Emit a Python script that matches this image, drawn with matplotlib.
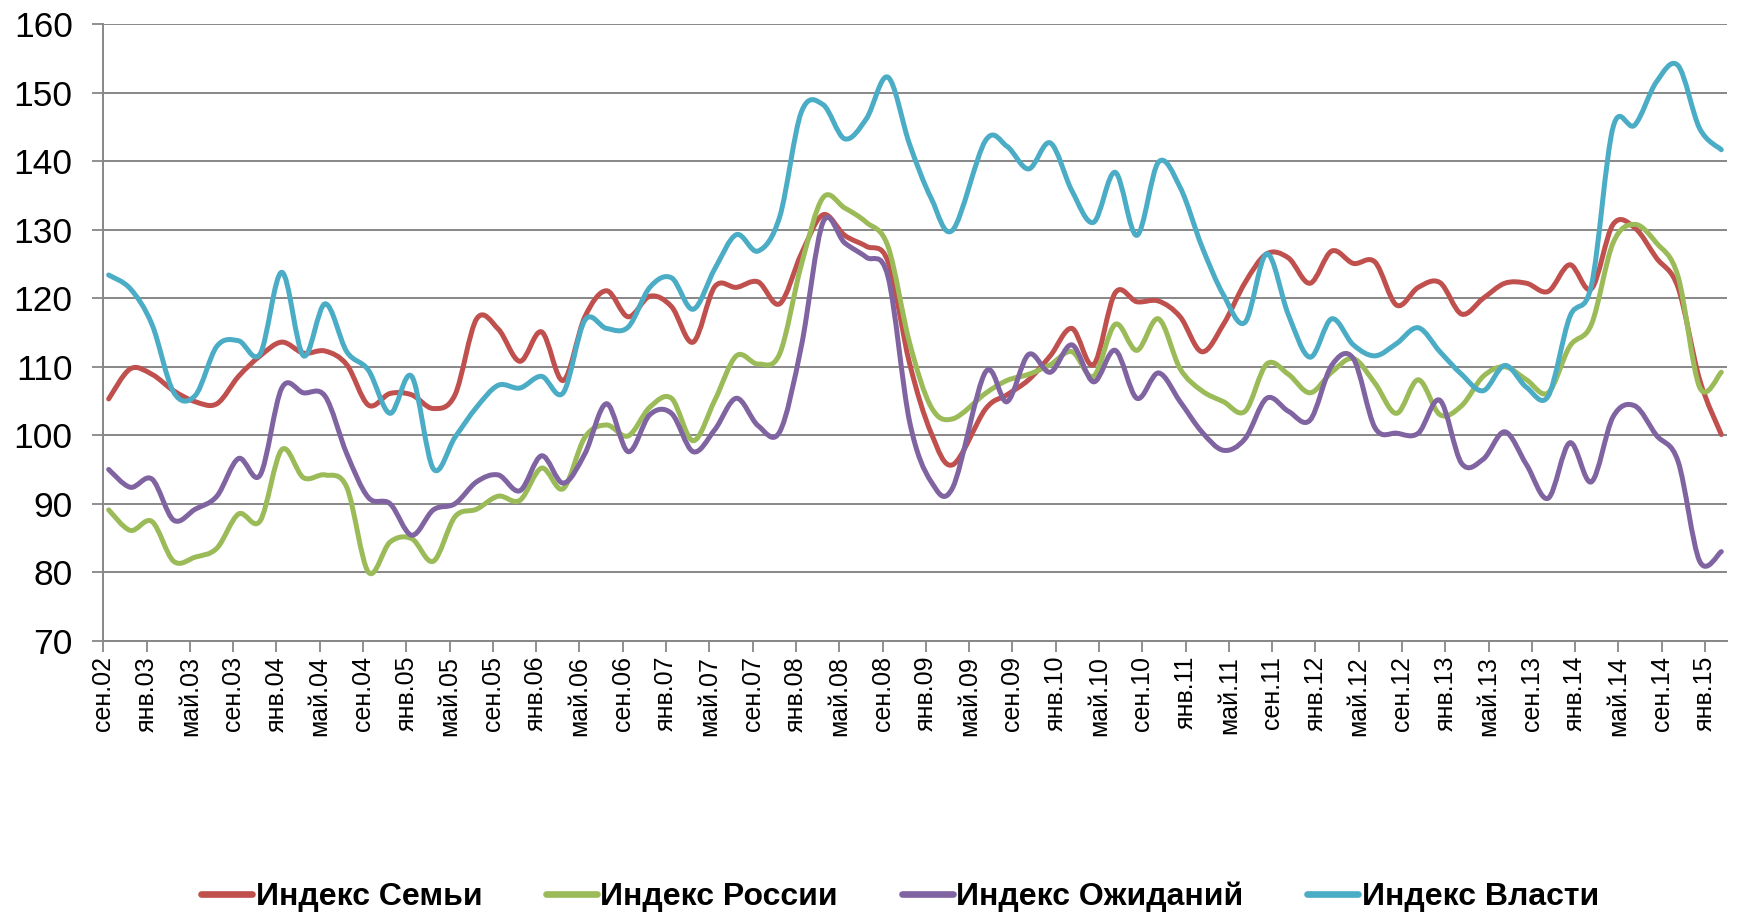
import matplotlib
matplotlib.use("Agg")
import matplotlib.pyplot as plt
from matplotlib.path import Path
from matplotlib.patches import PathPatch
from matplotlib.lines import Line2D

# Survey dates (year, month)
dates = [(2002, 9), (2002, 11), (2003, 1), (2003, 3), (2003, 5), (2003, 7), (2003, 9), (2003, 11),
         (2004, 1), (2004, 3), (2004, 5), (2004, 7), (2004, 9), (2004, 11), (2005, 1), (2005, 3),
         (2005, 5), (2005, 7), (2005, 9), (2005, 11), (2006, 1), (2006, 3), (2006, 5), (2006, 7),
         (2006, 9), (2006, 11), (2007, 1), (2007, 3), (2007, 5), (2007, 7), (2007, 9), (2007, 11),
         (2008, 1), (2008, 3), (2008, 5), (2008, 7), (2008, 9), (2008, 11), (2009, 1), (2009, 3),
         (2009, 6), (2009, 8), (2009, 10), (2009, 12), (2010, 2), (2010, 4), (2010, 6), (2010, 8),
         (2010, 10), (2010, 12), (2011, 2), (2011, 4), (2011, 6), (2011, 8), (2011, 10), (2011, 12),
         (2012, 2), (2012, 4), (2012, 6), (2012, 8), (2012, 10), (2012, 12), (2013, 2), (2013, 4),
         (2013, 6), (2013, 8), (2013, 10), (2013, 12), (2014, 2), (2014, 4), (2014, 6), (2014, 8),
         (2014, 10), (2014, 12), (2015, 2)]

semya = [105.3, 109.7, 108.9, 106.5, 104.9, 104.6, 108.6, 111.6, 113.6, 112.0, 112.3, 110.3,
         104.4, 106.1, 105.9, 103.9, 105.9, 117.0, 115.5, 110.8, 115.1, 108.0, 117.3, 121.1,
         117.3, 120.3, 118.8, 113.6, 121.7, 121.6, 122.4, 119.2, 126.5, 132.2, 129.2, 127.6,
         125.4, 110.5, 100.3, 95.7,
         103.8, 105.9, 108.1, 111.6, 115.6, 110.3, 120.8, 119.5, 119.6, 117.3, 112.2, 116.2,
         122.3, 126.5, 125.9, 122.2, 126.9, 125.1, 125.3, 119.0, 121.6, 122.3, 117.7, 120.0,
         122.2, 122.2, 121.0, 124.9, 121.4, 130.8, 130.3, 125.9, 121.6, 108.1, 100.1]

rossii = [89.1, 86.1, 87.4, 81.6, 82.2, 83.5, 88.5, 87.5, 97.9, 93.8, 94.2, 92.4,
          80.0, 84.4, 84.9, 81.6, 88.1, 89.2, 91.1, 90.5, 95.2, 92.2, 99.7, 101.5,
          99.9, 104.1, 105.4, 99.2, 105.1, 111.6, 110.4, 111.9, 124.9, 134.7, 133.2, 131.1,
          127.6, 113.5, 104.1, 102.4,
          106.1, 108.0, 108.9, 110.3, 112.2, 108.6, 116.2, 112.4, 117.0, 109.7, 106.5, 104.9,
          103.5, 110.4, 108.9, 106.2, 109.2, 111.2, 107.6, 103.2, 108.1, 103.0, 104.3, 108.6,
          110.0, 108.1, 106.2, 113.0, 116.2, 128.1, 130.8, 128.1, 123.2, 107.0, 109.2]

ozhidaniy = [95.0, 92.4, 93.6, 87.6, 89.2, 91.1, 96.6, 94.2, 106.9, 106.2, 105.7, 97.3,
             90.9, 90.0, 85.4, 89.1, 90.0, 93.2, 94.2, 91.9, 97.0, 93.0, 97.3, 104.6,
             97.6, 103.0, 103.2, 97.6, 100.8, 105.4, 101.4, 100.5, 113.0, 131.1, 128.1, 126.0,
             123.2, 102.0, 93.2, 92.4,
             109.2, 104.9, 111.8, 109.2, 113.2, 107.8, 112.4, 105.4, 109.1, 104.9, 100.5, 97.8,
             99.5, 105.4, 103.5, 102.2, 110.2, 111.2, 101.1, 100.3, 100.3, 105.1, 95.9, 96.5,
             100.5, 95.7, 90.8, 98.9, 93.2, 102.7, 104.3, 100.0, 96.2, 81.6, 83.0]

vlasti = [123.4, 121.4, 116.2, 106.3, 105.8, 113.0, 113.8, 111.9, 123.8, 111.6, 119.2, 112.2,
          109.5, 103.2, 108.6, 95.1, 99.7, 104.1, 107.3, 106.9, 108.6, 106.2, 116.8, 115.6,
          115.8, 121.6, 123.0, 118.4, 124.3, 129.3, 126.9, 131.9, 147.2, 148.3, 143.3, 146.2,
          152.3, 142.5, 134.6, 130.0,
          143.0, 142.2, 138.9, 142.7, 135.7, 131.1, 138.4, 129.2, 139.9, 136.2, 127.6, 120.5,
          116.5, 126.5, 117.6, 111.4, 117.0, 113.2, 111.6, 113.4, 115.7, 112.2, 108.9, 106.5,
          110.2, 107.0, 105.7, 117.3, 121.9, 145.0, 145.3, 151.6, 154.0, 144.8, 141.7]

series_names = ["Индекс Семьи", "Индекс России", "Индекс Ожиданий", "Индекс Власти"]
series_colors = ["#C0504D", "#9BBB59", "#8064A2", "#4BACC6"]

tick_labels = ["сен.02", "янв.03", "май.03", "сен.03", "янв.04", "май.04", "сен.04", "янв.05",
               "май.05", "сен.05", "янв.06", "май.06", "сен.06", "янв.07", "май.07", "сен.07",
               "янв.08", "май.08", "сен.08", "янв.09", "май.09", "сен.09", "янв.10", "май.10",
               "сен.10", "янв.11", "май.11", "сен.11", "янв.12", "май.12", "сен.12", "янв.13",
               "май.13", "сен.13", "янв.14", "май.14", "сен.14", "янв.15"]

START = (2002, 9)


def month_pos(ym):
    # position on a monthly date axis, point centred in its month slot
    return (ym[0] - START[0]) * 12 + (ym[1] - START[1]) + 0.5


plt.rcParams['font.family'] = ['Liberation Sans', 'DejaVu Sans']

fig = plt.figure(figsize=(17.41, 9.19), dpi=100)
ax = fig.add_axes([0.0593, 0.3029, 0.9918 - 0.0593, 0.9734 - 0.3029])

xs = [month_pos(d) for d in dates]


def smooth_path(x, y):
    n = len(x)
    pts = list(zip(x, y))
    verts = [pts[0]]
    codes = [Path.MOVETO]
    for i in range(n - 1):
        p0 = pts[i - 1] if i > 0 else pts[i]
        p1 = pts[i]
        p2 = pts[i + 1]
        p3 = pts[i + 2] if i + 2 < n else pts[i + 1]
        c1 = (p1[0] + (p2[0] - p0[0]) / 6.0, p1[1] + (p2[1] - p0[1]) / 6.0)
        c2 = (p2[0] - (p3[0] - p1[0]) / 6.0, p2[1] - (p3[1] - p1[1]) / 6.0)
        verts += [c1, c2, p2]
        codes += [Path.CURVE4] * 3
    return Path(verts, codes)


handles = []
for vals, name, col in zip([semya, rossii, ozhidaniy, vlasti], series_names, series_colors):
    patch = PathPatch(smooth_path(xs, vals), facecolor="none", edgecolor=col, lw=3.6,
                      capstyle="round", joinstyle="round", zorder=3)
    ax.add_patch(patch)
    handles.append(Line2D([], [], color=col, lw=4.8, solid_capstyle="round", label=name))

grid_col = "#878787"
ax.set_xlim(0, 150)
ax.set_ylim(70, 160)
ax.set_yticks(range(70, 161, 10))
ax.set_xticks(range(0, 149, 4))
ax.set_xticklabels(tick_labels, rotation=90, fontsize=18)
ax.tick_params(axis="y", labelsize=25.5, length=8, width=1.3, color=grid_col, pad=14)
ax.tick_params(axis="x", length=8, width=1.3, color=grid_col, pad=3)
ax.yaxis.grid(True, color=grid_col, lw=1.4)
ax.set_axisbelow(True)
for s in ["top", "right"]:
    ax.spines[s].set_visible(False)
for s in ["left", "bottom"]:
    ax.spines[s].set_color(grid_col)
    ax.spines[s].set_linewidth(1.4)

fig.legend(handles=handles, loc="center", bbox_to_anchor=(0.517, 0.024), ncol=4,
           frameon=False, prop={"weight": "bold", "size": 23}, handlelength=1.6,
           handletextpad=0.1, columnspacing=2.0)

fig.savefig("out.png", dpi=100)
